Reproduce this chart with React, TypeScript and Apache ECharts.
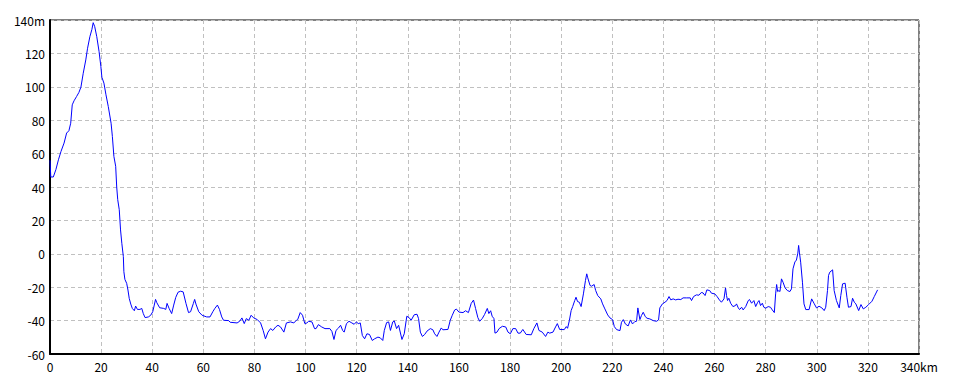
import React, { useEffect, useRef } from "react";
import * as echarts from "echarts";

const distancesKm: number[] = [
  0, 0.3, 1.3, 2.3, 3.3, 4.3, 5.5, 6.5, 7.4, 8.1, 8.7, 9.4, 10.4, 11.3, 12.1, 13.0, 14.0, 14.7, 15.6, 16.4,
  16.9, 17.5, 18.3, 19.2, 19.9, 20.3, 21.1, 21.9, 22.8, 23.9, 24.4, 25.0, 25.7, 26.1, 26.5, 27.1, 27.6, 28.1, 28.7, 28.9,
  29.3, 30.0, 30.5, 31.0, 31.6, 32.2, 33.0, 33.5, 34.2, 35.2, 35.9, 36.5, 37.2, 38.5, 39.4, 40.2, 40.8, 41.3, 41.8, 42.9,
  44.5, 45.3, 45.8, 46.6, 47.6, 48.4, 49.2, 50.1, 51.1, 52.1, 53.2, 54.2, 55.0, 56.1, 56.6, 57.1, 58.2, 59.5, 61.3, 62.6,
  63.7, 64.5, 65.5, 66.3, 67.2, 67.9, 69.9, 70.5, 73.2, 74.2, 75.1, 76.0, 76.8, 77.8, 78.7, 79.7, 81.1, 82.4, 83.4, 84.3,
  85.3, 86.3, 87.2, 88.3, 89.2, 90.2, 91.5, 92.5, 94.1, 95.4, 96.4, 96.9, 97.9, 98.8, 99.7, 100.5, 101.2, 102.5, 103.5, 104.1,
  105.0, 106.3, 107.6, 109.5, 110.3, 111.1, 111.9, 112.9, 113.7, 114.5, 115.1, 116.0, 117.0, 118.1, 119.0, 119.9, 120.6, 121.4, 122.2, 123.1,
  124.0, 125.0, 126.1, 127.0, 128.3, 129.2, 130.2, 130.8, 131.7, 132.5, 133.2, 134.1, 134.7, 135.6, 136.4, 137.7, 138.6, 139.6, 140.5, 141.3,
  142.5, 143.6, 144.2, 144.9, 145.7, 146.6, 147.5, 148.8, 149.8, 150.5, 151.4, 152.2, 153.1, 153.7, 155.7, 156.6, 157.4, 158.3, 159.0, 160.0,
  161.6, 162.6, 163.7, 164.8, 165.7, 166.5, 167.4, 168.1, 169.1, 170.0, 171.1, 171.7, 172.4, 173.0, 173.7, 174.1, 174.9, 175.7, 177.0, 178.3,
  179.2, 180.1, 181.1, 182.2, 183.1, 184.0, 185.0, 186.3, 188.3, 189.3, 190.5, 191.3, 192.6, 193.9, 194.8, 195.5, 196.8, 197.8, 198.5, 199.4,
  201.2, 202.0, 202.5, 203.2, 203.9, 204.5, 205.3, 205.8, 206.4, 207.1, 207.8, 208.7, 209.5, 210.0, 210.4, 211.3, 211.9, 212.9, 213.5, 214.3,
  215.5, 216.2, 217.1, 218.2, 219.1, 220.1, 220.8, 221.7, 223.0, 223.6, 224.3, 225.1, 226.2, 227.1, 227.9, 228.8, 229.5, 230.0, 230.8, 231.4,
  232.1, 232.9, 233.6, 234.7, 236.0, 237.3, 238.1, 238.6, 239.6, 240.6, 241.4, 242.2, 242.9, 243.8, 244.8, 245.7, 246.8, 247.7, 249.0, 250.5,
  251.0, 251.8, 252.9, 253.9, 254.8, 255.5, 256.3, 257.0, 258.1, 258.8, 260.1, 261.0, 261.9, 262.7, 263.7, 264.3, 264.7, 265.1, 265.6, 266.3,
  267.2, 268.2, 268.6, 269.3, 269.8, 270.6, 271.2, 272.2, 273.2, 273.7, 274.5, 275.4, 276.1, 276.9, 277.4, 278.0, 278.7, 279.3, 280.0, 281.0,
  281.9, 282.6, 283.4, 283.9, 284.3, 284.7, 285.2, 285.6, 286.2, 286.8, 287.6, 288.5, 289.5, 290.1, 290.7, 291.5, 292.0, 292.6, 292.9, 293.2,
  293.7, 294.4, 295.0, 295.7, 297.0, 298.0, 298.9, 299.9, 300.9, 302.0, 302.9, 303.5, 304.2, 304.6, 305.1, 306.2, 306.8, 307.7, 308.8, 309.4,
  310.1, 311.1, 311.8, 312.4, 313.4, 314.0, 314.7, 315.3, 316.4, 317.3, 318.2, 319.2, 320.3, 321.6, 322.5, 323.8,
];

const elevationsM: number[] = [
  56, 46, 46, 50.4, 56.3, 61.3, 66.3, 72.3, 73.7, 78.2, 89.2, 91.6, 94.2, 96.6, 99.8, 108.1, 116.1, 123.1, 130, 134.4,
  138.4, 136, 130, 121.1, 112.1, 105.7, 102.2, 95.2, 88.2, 78.2, 70.3, 58.3, 52.4, 40, 32.4, 26.4, 14.3, 6.3, -1.7, -10.7,
  -15.3, -17.7, -21.7, -26.7, -30.1, -32.7, -34.1, -31.3, -33.3, -33.3, -32.7, -35.8, -38.2, -37.8, -36.8, -34.7, -30.7, -27.3, -29.3, -32.3,
  -32.7, -33.3, -29.7, -32.7, -35.8, -30.7, -26.1, -23, -22.4, -22.8, -29.7, -35.2, -34.7, -29.7, -27.3, -30.1, -34.7, -36.8, -37.8, -37.8,
  -34.7, -32.7, -30.7, -33.3, -37.8, -39.8, -40, -41, -41.4, -40.4, -38.4, -41.8, -38.8, -39.8, -36.8, -38.4, -39.4, -41.4, -45.9, -50.9,
  -46.9, -44.8, -45.9, -43.8, -42.8, -43.8, -46.9, -41.4, -40.8, -41.4, -39.8, -39.4, -35.2, -36.8, -41.8, -41.4, -40.4, -40.8, -44.8, -44.8,
  -42.4, -43.8, -44.8, -44.8, -46.5, -51.3, -45.9, -44.4, -42.8, -45.9, -46.9, -41.8, -40.4, -41.4, -42.2, -40.8, -41.8, -41.4, -48.9, -50.9,
  -47.9, -48.3, -51.9, -50.9, -49.9, -50.3, -51.9, -45.9, -41.2, -40.8, -45.9, -40.8, -40.2, -44.8, -42.8, -51.3, -47.9, -37.4, -38.2, -39.8,
  -36.5, -36.2, -38.8, -46.9, -49.5, -48.3, -46.3, -44.8, -45.5, -47.9, -49.5, -46.9, -44.4, -45.5, -45.3, -39.8, -36.8, -33.7, -33.1, -34.9,
  -35.2, -34.1, -35.2, -29.7, -27.7, -32.7, -38.2, -40.4, -38.8, -36.4, -32.7, -35.8, -34.1, -37.4, -38.8, -47.5, -46.9, -44.8, -43.4, -43.8,
  -46.9, -47.9, -44.8, -44.8, -47.5, -47.5, -45.3, -48.3, -48.5, -44.8, -41.4, -45.9, -46.9, -49.5, -46.9, -47.5, -46.9, -43.8, -41.8, -45.3,
  -45.4, -43.6, -44.6, -40, -34, -31.6, -28, -26, -28.6, -29, -31.6, -24, -16, -12, -14.4, -19, -19.4, -18.4, -22, -25,
  -27, -30, -33, -36.6, -38.4, -39.4, -43.6, -45.4, -46, -41, -39.4, -42, -43.2, -39.6, -42, -40.6, -40.4, -32.4, -39.4, -37,
  -35, -37.6, -38.6, -39, -40, -40.4, -39.6, -32.4, -30, -29, -28, -25.6, -27.6, -27, -27.6, -27.2, -27.4, -26.4, -26.4, -26.4,
  -28, -25.6, -24.6, -24.8, -23.2, -23.4, -25, -21.6, -22, -23.6, -24, -25.6, -27.6, -29, -27, -20.4, -25, -28, -26.6, -29.6,
  -31.6, -31, -30, -32.4, -33.4, -32, -33.6, -31.6, -28, -27.4, -29.6, -28, -31.6, -29, -28, -31, -29.6, -32, -32.6, -31.6,
  -32, -33.6, -35.2, -24, -18.4, -22.6, -22, -22.6, -15, -17, -20.4, -22, -22.6, -21, -9, -4.6, -4, 0.4, 5, 1,
  -5, -17, -30, -33.4, -33.4, -27, -29.6, -32.4, -31.4, -32.4, -34, -32, -22, -13, -11, -9.6, -22, -28, -32.4, -25,
  -18, -17.6, -26, -32, -31.6, -26.6, -29, -30, -34, -30.4, -33, -32, -30.4, -28.4, -25.6, -21.6,
];

const xTicks = { min: 0, max: 340, interval: 20, unit: "km" };
const yTicks = { min: -60, max: 140, interval: 20, unit: "m" };

export default function App() {
  const ref = useRef<HTMLDivElement>(null);

  useEffect(() => {
    if (!ref.current) return;
    const chart = echarts.init(ref.current, undefined, { renderer: "svg" });
    const data = distancesKm.map((d, i) => [d, elevationsM[i]]);
    const font = "'Noto Sans CJK JP', 'DejaVu Sans', sans-serif";
    chart.setOption({
      animation: false,
      backgroundColor: "#ffffff",
      grid: {
        left: 50,
        right: 41,
        top: 20,
        bottom: 30,
        show: true,
        borderColor: "#000000",
        borderWidth: 1,
        backgroundColor: "transparent",
      },
      xAxis: {
        type: "value",
        min: xTicks.min,
        max: xTicks.max,
        interval: xTicks.interval,
        axisLine: { show: true, onZero: false, lineStyle: { color: "#000000", width: 2 } },
        axisTick: { show: false },
        axisLabel: {
          color: "#000000",
          fontSize: 12,
          fontFamily: font,
          margin: 6,
          formatter: (v: number) => (v === xTicks.max ? `${v}${xTicks.unit}` : `${v}`),
        },
        splitLine: { show: true, lineStyle: { color: "#c0c0c0", type: [4, 3], width: 1 } },
      },
      yAxis: {
        type: "value",
        min: yTicks.min,
        max: yTicks.max,
        interval: yTicks.interval,
        axisLine: { show: true, onZero: false, lineStyle: { color: "#000000", width: 2 } },
        axisTick: { show: false },
        axisLabel: {
          color: "#000000",
          fontSize: 12,
          fontFamily: font,
          margin: 5,
          formatter: (v: number) => (v === yTicks.max ? `${v}${yTicks.unit}` : `${v}`),
        },
        splitLine: { show: true, lineStyle: { color: "#c0c0c0", type: [4, 3], width: 1 } },
      },
      series: [
        {
          type: "line",
          data,
          showSymbol: false,
          symbol: "none",
          lineStyle: { color: "#0000ff", width: 1 },
          itemStyle: { color: "#0000ff" },
        },
      ],
    });
    return () => chart.dispose();
  }, []);

  return (
    <div
      ref={ref}
      style={{ position: "fixed", left: 0, top: 0, width: 960, height: 384 }}
    />
  );
}
